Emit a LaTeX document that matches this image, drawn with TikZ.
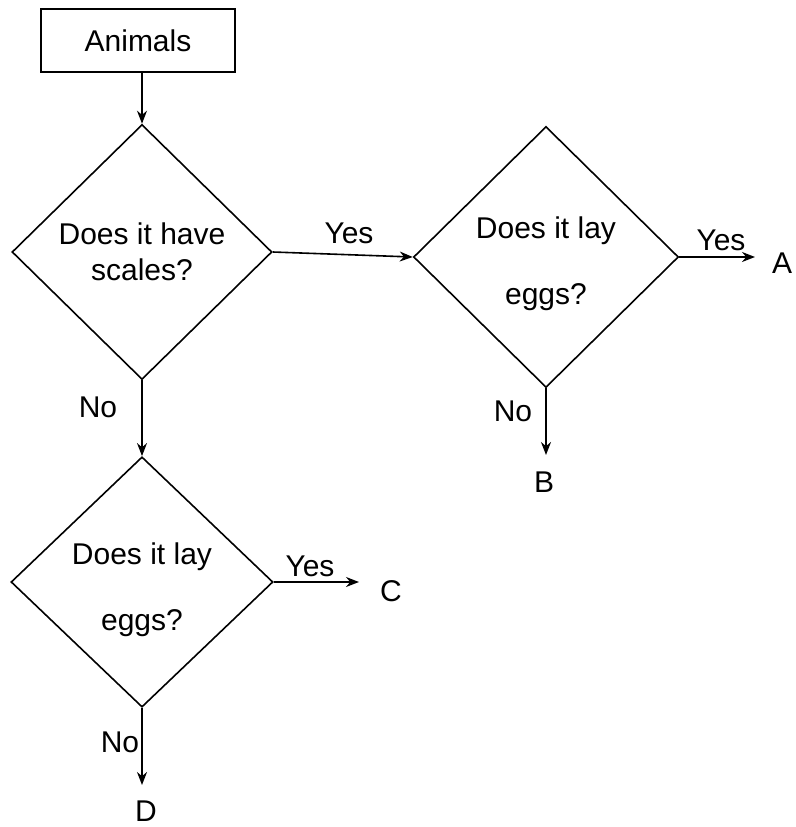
\documentclass[tikz,border=0pt]{standalone}
\usepackage{fontspec}
\setmainfont{Liberation Sans}
\usetikzlibrary{shapes.geometric,arrows.meta,calc}
\begin{document}
\begin{tikzpicture}[x=1pt,y=-1pt,
  every node/.style={font=\fontsize{30}{36}\selectfont, inner sep=0pt},
  dia/.style={diamond, draw, line width=1.6pt, align=center},
  box/.style={draw, line width=1.6pt, minimum width=194pt, minimum height=63pt},
  arr/.style={line width=1.6pt, -{Stealth[length=13pt,width=10pt]}}]
\useasboundingbox (0,0) rectangle (795,827);

\node[box] (animals) at (138,40.5) {Animals};
\node[dia, minimum width=260pt, minimum height=255pt] (d1) at (142,252) {Does it have\\scales?};
\node[dia, minimum width=265pt, minimum height=261pt] (d2) at (546,257) {\rule{0pt}{36pt}Does it lay\\[30pt]eggs?};
\node[dia, minimum width=262pt, minimum height=249pt] (d3) at (142,582) {\rule{0pt}{38pt}Does it lay\\[30pt]eggs?};

\draw[arr] (animals.south -| d1.north) -- (d1.north);
\draw[arr] (d1.east) -- (d2.west);
\node (yes1) at (349,233) {Yes};
\draw[arr] (d1.south) -- (d3.north);
\node (no1) at (98,407) {No};

\coordinate (aEnd) at (755,257);
\draw[arr] (d2.east) -- (aEnd);
\node (yesA) at (721,240) {Yes};
\node (A) at (782,263) {A};

\coordinate (bEnd) at (546,455);
\draw[arr] (d2.south) -- (bEnd);
\node (noB) at (513,411) {No};
\node (B) at (544,482) {B};

\coordinate (cEnd) at (359,582);
\draw[arr] (d3.east) -- (cEnd);
\node (yesC) at (310,566) {Yes};
\node (C) at (391,591) {C};

\coordinate (dEnd) at (142,785);
\draw[arr] (d3.south) -- (dEnd);
\node (noD) at (120,742) {No};
\node (D) at (146,811) {D};
\end{tikzpicture}
\end{document}
